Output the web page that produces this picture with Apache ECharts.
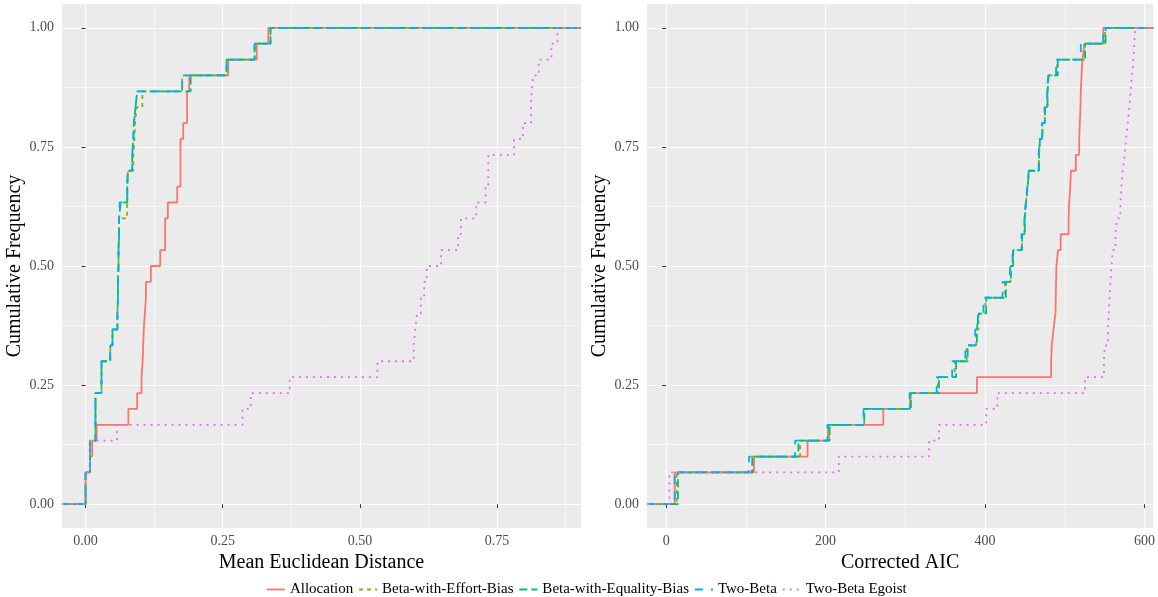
<!DOCTYPE html>
<html>
<head>
<meta charset="utf-8">
<script src="https://cdn.jsdelivr.net/npm/echarts@6/dist/echarts.min.js"></script>
<style>
  html, body { margin: 0; padding: 0; background: #ffffff; }
  #chart { width: 1158px; height: 597px; }
</style>
</head>
<body>
<div id="chart"></div>
<script>
// Model names, in legend order
const modelNames = ['Allocation', 'Beta-with-Effort-Bias', 'Beta-with-Equality-Bias', 'Two-Beta', 'Two-Beta Egoist'];

// Mean Euclidean distance per subject (30 subjects), one array per model
const distAllocation = [0.000, 0.000, 0.008, 0.012, 0.020, 0.078, 0.094, 0.102, 0.104, 0.105,
  0.106, 0.108, 0.110, 0.110, 0.119, 0.136, 0.145, 0.145, 0.150, 0.167,
  0.173, 0.173, 0.173, 0.178, 0.185, 0.185, 0.189, 0.260, 0.312, 0.333];
const distEffortBias = [0.000, 0.000, 0.008, 0.008, 0.018, 0.018, 0.018, 0.029, 0.029, 0.045,
  0.049, 0.058, 0.059, 0.059, 0.060, 0.060, 0.061, 0.061, 0.0757, 0.076,
  0.077, 0.087, 0.089, 0.090, 0.093, 0.1035, 0.176, 0.257, 0.308, 0.337];
const distEqualityBias = [0.000, 0.000, 0.008, 0.008, 0.018, 0.018, 0.018, 0.029, 0.029, 0.045,
  0.049, 0.058, 0.059, 0.059, 0.060, 0.060, 0.061, 0.061, 0.064, 0.076,
  0.077, 0.085, 0.087, 0.088, 0.091, 0.094, 0.1915, 0.257, 0.308, 0.337];
const distTwoBeta = [0.000, 0.000, 0.008, 0.008, 0.018, 0.018, 0.018, 0.029, 0.029, 0.0445,
  0.049, 0.058, 0.059, 0.059, 0.060, 0.060, 0.061, 0.061, 0.062, 0.076,
  0.077, 0.085, 0.087, 0.088, 0.091, 0.094, 0.176, 0.257, 0.308, 0.337];
const distTwoBetaEgoist = [0.000, 0.000, 0.008, 0.008, 0.057, 0.286, 0.301, 0.372, 0.532, 0.598,
  0.601, 0.604, 0.611, 0.617, 0.622, 0.648, 0.679, 0.684, 0.712, 0.729,
  0.734, 0.734, 0.781, 0.797, 0.812, 0.813, 0.816, 0.826, 0.849, 0.860];

// Corrected AIC per subject, one array per model
const aicAllocation = [10.7, 10.7, 110.2, 177.4, 203.0, 272.4, 306.0, 389.8, 482.9, 483.7,
  485.8, 488.3, 488.7, 489.1, 489.5, 491.6, 494.9, 504.8, 505.6, 506.9,
  507.7, 513.9, 518.1, 518.9, 519.7, 520.1, 521.0, 522.2, 524.7, 548.3];
const aicEffortBias = [13.2, 13.2, 108.1, 168.0, 204.3, 248.5, 306.5, 341.0, 362.0, 377.0,
  389.0, 391.8, 400.5, 425.0, 432.0, 435.0, 446.2, 449.6, 451.3, 453.3,
  455.0, 467.6, 468.8, 471.8, 475.0, 478.2, 479.6, 490.5, 525.0, 550.5];
const aicEqualityBias = [14.9, 14.9, 108.1, 165.9, 205.1, 248.5, 307.0, 342.2, 363.7, 378.2,
  389.8, 392.0, 401.4, 426.2, 432.4, 435.3, 446.5, 449.8, 451.5, 453.5,
  455.2, 467.8, 469.0, 472.0, 475.2, 478.4, 479.8, 491.2, 525.5, 551.2];
const aicTwoBeta = [10.7, 10.7, 104.0, 161.8, 202.2, 247.6, 305.4, 339.3, 358.8, 375.3,
  387.7, 391.0, 398.0, 422.0, 431.2, 434.5, 445.7, 449.4, 451.0, 453.1,
  454.8, 467.2, 468.4, 471.3, 474.6, 477.9, 479.2, 489.1, 520.1, 548.3];
const aicTwoBetaEgoist = [4.1, 4.1, 216.6, 329.8, 342.2, 401.4, 415.4, 525.5, 549.1, 550.3,
  554.1, 555.3, 556.1, 557.4, 558.6, 560.3, 563.6, 565.7, 569.8, 571.0,
  572.7, 575.2, 576.8, 578.9, 581.0, 582.6, 584.3, 586.0, 587.2, 588.4];

// Axis breaks and their labels
const freqTicks = [0, 0.25, 0.5, 0.75, 1];
const freqTickLabels = ['0.00', '0.25', '0.50', '0.75', '1.00'];
const freqMinorTicks = [0.125, 0.375, 0.625, 0.875];
const distTicks = [0, 0.25, 0.5, 0.75];
const distTickLabels = ['0.00', '0.25', '0.50', '0.75'];
const distMinorTicks = [0.125, 0.375, 0.625, 0.875];
const aicTicks = [0, 200, 400, 600];
const aicTickLabels = ['0', '200', '400', '600'];
const aicMinorTicks = [100, 300, 500];

const distValues = [distAllocation, distEffortBias, distEqualityBias, distTwoBeta, distTwoBetaEgoist];
const aicValues = [aicAllocation, aicEffortBias, aicEqualityBias, aicTwoBeta, aicTwoBetaEgoist];

// ggplot2 hue palette and linetype sequence
const colors = ['#F8766D', '#A3A500', '#00BF7D', '#00B0F6', '#E76BF3'];
const dashes = ['solid', [4, 4], [8, 4], [8, 8], [2, 5]];

const FONT = '"Liberation Serif", "DejaVu Serif", serif';
const DIST_RANGE = [-0.043, 0.903];
const AIC_RANGE = [-24, 611];
const FREQ_RANGE = [-0.05, 1.05];

// Empirical CDF as step points, padded to the panel edges like stat_ecdf(pad = TRUE)
function ecdf(values, lo, hi) {
  const sorted = values.slice().sort((a, b) => a - b);
  const n = sorted.length;
  const pts = [[lo, 0]];
  sorted.forEach((v, i) => pts.push([v, (i + 1) / n]));
  pts.push([hi, 1]);
  return pts;
}

function labelFor(ticks, labels) {
  return function (v) {
    for (let i = 0; i < ticks.length; i++) {
      if (Math.abs(ticks[i] - v) < 1e-9) return labels[i];
    }
    return '';
  };
}

function majorAxis(gridIndex, range, ticks, labels, extra) {
  return Object.assign({
    type: 'value',
    gridIndex: gridIndex,
    min: range[0],
    max: range[1],
    axisLine: { show: false },
    axisTick: { show: true, length: 4, customValues: ticks, lineStyle: { color: '#333333', width: 1 } },
    axisLabel: {
      customValues: ticks,
      formatter: labelFor(ticks, labels),
      color: '#4D4D4D', fontSize: 14, fontFamily: FONT
    },
    splitLine: { show: true, lineStyle: { color: '#FFFFFF', width: 1.2 } },
    nameTextStyle: { color: '#000000', fontSize: 20, fontFamily: FONT }
  }, extra);
}

function minorAxis(gridIndex, range, ticks, position) {
  return {
    type: 'value',
    gridIndex: gridIndex,
    position: position,
    min: range[0],
    max: range[1],
    axisLine: { show: false },
    axisTick: { show: false, customValues: ticks },
    axisLabel: { show: false, customValues: ticks },
    splitLine: { show: true, lineStyle: { color: '#FFFFFF', width: 0.55 } }
  };
}

const xAxes = [
  majorAxis(0, DIST_RANGE, distTicks, distTickLabels, {
    position: 'bottom', name: 'Mean Euclidean Distance', nameLocation: 'middle', nameGap: 21,
    axisLabel: { customValues: distTicks, formatter: labelFor(distTicks, distTickLabels),
      color: '#4D4D4D', fontSize: 14, fontFamily: FONT, margin: 6 }
  }),
  minorAxis(0, DIST_RANGE, distMinorTicks, 'top'),
  majorAxis(1, AIC_RANGE, aicTicks, aicTickLabels, {
    position: 'bottom', name: 'Corrected AIC', nameLocation: 'middle', nameGap: 21,
    axisLabel: { customValues: aicTicks, formatter: labelFor(aicTicks, aicTickLabels),
      color: '#4D4D4D', fontSize: 14, fontFamily: FONT, margin: 6 }
  }),
  minorAxis(1, AIC_RANGE, aicMinorTicks, 'top')
];

const yAxes = [
  majorAxis(0, FREQ_RANGE, freqTicks, freqTickLabels, {
    position: 'left', name: 'Cumulative Frequency', nameLocation: 'middle', nameGap: 37, nameRotate: 90
  }),
  minorAxis(0, FREQ_RANGE, freqMinorTicks, 'right'),
  majorAxis(1, FREQ_RANGE, freqTicks, freqTickLabels, {
    position: 'left', name: 'Cumulative Frequency', nameLocation: 'middle', nameGap: 37, nameRotate: 90
  }),
  minorAxis(1, FREQ_RANGE, freqMinorTicks, 'right')
];

const series = [];
function addPanel(valuesList, range, xIdx, yIdx) {
  valuesList.forEach((vals, i) => {
    series.push({
      type: 'line',
      name: modelNames[i],
      xAxisIndex: xIdx,
      yAxisIndex: yIdx,
      step: 'end',
      symbol: 'none',
      showSymbol: false,
      clip: true,
      lineStyle: { color: colors[i], width: 1.8, type: dashes[i], cap: 'butt' },
      itemStyle: { color: colors[i] },
      emphasis: { disabled: true },
      data: ecdf(vals, range[0], range[1])
    });
  });
}
addPanel(distValues, DIST_RANGE, 0, 0);
addPanel(aicValues, AIC_RANGE, 2, 2);

const chart = echarts.init(document.getElementById('chart'), null, { renderer: 'canvas' });
chart.setOption({
  animation: false,
  backgroundColor: '#FFFFFF',
  grid: [
    { left: 62, right: 577, top: 4, bottom: 69, show: true, backgroundColor: '#EBEBEB', borderWidth: 0 },
    { left: 647, right: 0, top: 4, bottom: 69, show: true, backgroundColor: '#EBEBEB', borderWidth: 0 }
  ],
  xAxis: xAxes,
  yAxis: yAxes,
  legend: {
    data: modelNames,
    orient: 'horizontal',
    left: 261,
    top: 577,
    itemWidth: 18,
    itemHeight: 12,
    itemGap: 5,
    itemStyle: { opacity: 0 },
    lineStyle: { width: 1.8 },
    textStyle: { color: '#000000', fontSize: 15, fontFamily: FONT }
  },
  series: series
});
</script>
</body>
</html>
